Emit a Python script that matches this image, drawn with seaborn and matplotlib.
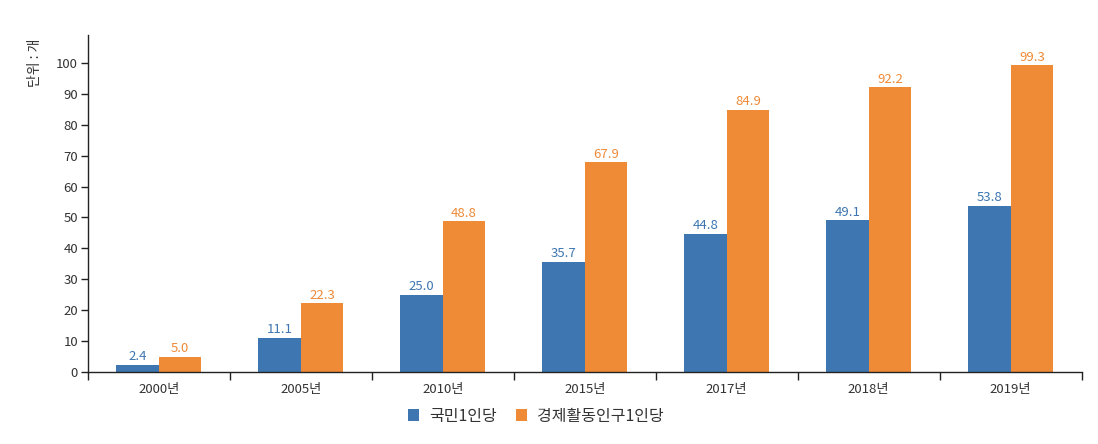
import matplotlib
matplotlib.use("Agg")
import matplotlib.pyplot as plt
import seaborn as sns
import pandas as pd
import numpy as np

years = ["2000년", "2005년", "2010년", "2015년", "2017년", "2018년", "2019년"]
per_person = [2.4, 11.1, 25.0, 35.7, 44.8, 49.1, 53.8]
per_worker = [5.0, 22.3, 48.8, 67.9, 84.9, 92.2, 99.3]
series = ["국민1인당", "경제활동인구1인당"]
colors = ["#3d76b1", "#ef8a37"]

df = pd.DataFrame({
    "year": years * 2,
    "value": per_person + per_worker,
    "series": [series[0]] * len(years) + [series[1]] * len(years),
})

sns.set_theme(style="white")
plt.rcParams["font.family"] = ["Noto Sans CJK KR", "DejaVu Sans"]

fig = plt.figure(figsize=(10.98, 4.44), dpi=100)
ax = fig.add_axes([0.080, 0.162, 0.905, 0.759])

sns.barplot(data=df, x="year", y="value", hue="series", palette=colors,
            width=0.6, saturation=1, linewidth=0, ax=ax, legend=True)

for cont, col in zip(ax.containers, colors):
    ax.bar_label(cont, fmt="%.1f", color=col, fontsize=9.5, padding=1)

ax.set_xlim(-0.5, len(years) - 0.5)
ax.set_ylim(0, 109)
ax.set_yticks(np.arange(0, 101, 10))
ax.set_xlabel("")
ax.set_ylabel("")
ax.text(-0.053, 0.99, "단위 : 개", rotation=90, transform=ax.transAxes,
        ha="center", va="top", fontsize=10, color="#333333")

for s in ["top", "right"]:
    ax.spines[s].set_visible(False)
for s in ["left", "bottom"]:
    ax.spines[s].set_color("#222222")
    ax.spines[s].set_linewidth(1)

ax.tick_params(axis="y", which="major", length=5, width=1, color="#222222",
               labelsize=9.5, labelcolor="#333333", left=True, pad=2)
ax.tick_params(axis="x", which="major", length=0, labelsize=9.5,
               labelcolor="#333333", pad=8)
ax.set_xticks(np.arange(-0.5, len(years) + 0.5, 1), minor=True)
ax.tick_params(axis="x", which="minor", length=6, width=1, color="#222222",
               bottom=True)

handles, labels = ax.get_legend_handles_labels()
ax.get_legend().remove()
leg = fig.legend(handles, labels, loc="center", bbox_to_anchor=(0.488, 0.063),
                 ncol=2, frameon=False, fontsize=11.5, handlelength=0.7,
                 handleheight=0.7, handletextpad=0.6, columnspacing=1.2)
for t in leg.get_texts():
    t.set_color("#333333")

fig.savefig("out.png", dpi=100)
